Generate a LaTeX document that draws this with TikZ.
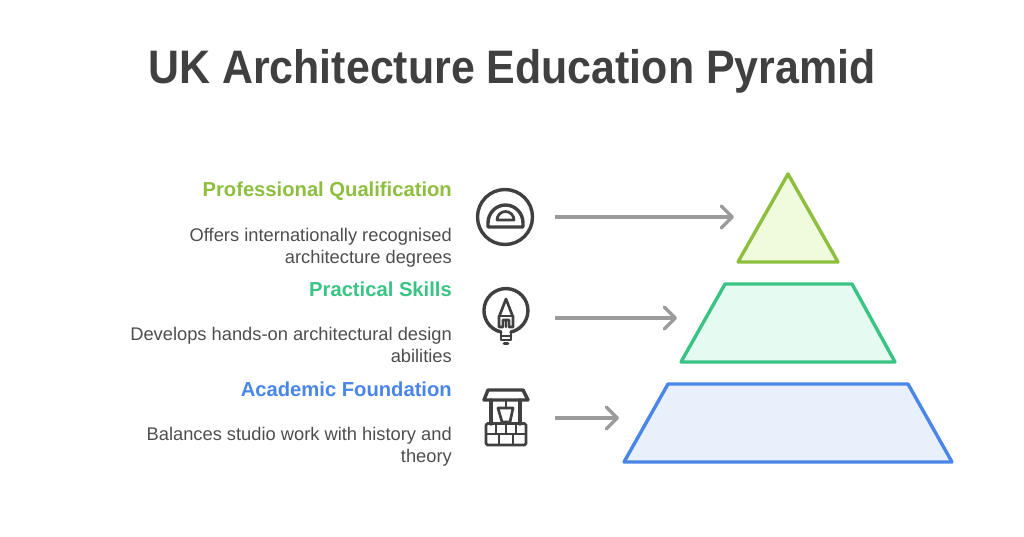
\documentclass[tikz,border=0pt]{standalone}
\usepackage{fontspec}
\setmainfont{Liberation Sans}
\usetikzlibrary{arrows.meta}
\definecolor{ink}{RGB}{64,64,64}
\definecolor{bodyink}{RGB}{78,78,78}
\definecolor{arrowgrey}{RGB}{155,155,155}
\definecolor{lime}{RGB}{142,190,62}
\definecolor{limefill}{RGB}{240,251,222}
\definecolor{mint}{RGB}{58,196,132}
\definecolor{mintfill}{RGB}{229,250,240}
\definecolor{azure}{RGB}{74,134,232}
\definecolor{azurefill}{RGB}{232,240,252}
\tikzset{
  x=1pt,y=-1pt,
  titletext/.style={anchor=center,font=\fontsize{47}{52}\selectfont\bfseries,text=ink,inner sep=0pt},
  headtext/.style={anchor=east,font=\fontsize{20.2}{24}\selectfont\bfseries,inner sep=0pt},
  bodytext/.style={anchor=north east,align=right,font=\fontsize{18.3}{22}\selectfont,text=bodyink,inner sep=0pt},
  flow/.style={draw=arrowgrey,line width=3.2pt,-{Straight Barb[length=11pt,width=22pt,line width=3.4pt,round]}},
  tier/.style={line width=3.4pt,line join=round},
  icon/.style={draw=ink,line width=3.4pt,line join=round,line cap=round},
  iconthin/.style={draw=ink,line width=2.7pt,line join=round,line cap=round},
  brickline/.style={draw=ink,line width=2.2pt},
}
\begin{document}
\begin{tikzpicture}
\useasboundingbox (0,0) rectangle (1024,536);
\fill[white] (0,0) rectangle (1024,536);
\node[titletext] (title) at (512,71) {\scalebox{0.913}[1]{UK Architecture Education Pyramid}};

% tiers
\draw[tier,draw=lime,fill=limefill] (788,174) -- (838,262) -- (738,262) -- cycle;
\draw[tier,draw=mint,fill=mintfill] (725,284) -- (852,284) -- (895,362) -- (681,362) -- cycle;
\draw[tier,draw=azure,fill=azurefill] (668,384) -- (908,384) -- (952,462) -- (624,462) -- cycle;

% anchors for connectors
\coordinate (t1) at (734,217);
\coordinate (t2) at (677,318);
\coordinate (t3) at (619,418);
\coordinate (s1) at (555,217);
\coordinate (s2) at (555,318);
\coordinate (s3) at (555,418);
\draw[flow] (s1) -- (t1);
\draw[flow] (s2) -- (t2);
\draw[flow] (s3) -- (t3);

% labels
\node[headtext,text=lime] (h1) at (452,191) {Professional Qualification};
\node[bodytext] (b1) at (452,228) {Offers internationally recognised\\architecture degrees};
\node[headtext,text=mint] (h2) at (452,289) {Practical Skills};
\node[bodytext] (b2) at (452,327) {Develops hands-on architectural design\\abilities};
\node[headtext,text=azure] (h3) at (452,389) {Academic Foundation};
\node[bodytext] (b3) at (452,427) {Balances studio work with history and\\theory};

% protractor icon
\draw[icon] (505,217) circle (27.5);
\draw[icon] (488,227) -- (523,227) -- (523,223) arc (0:-180:17.5 and 18) -- cycle;
\draw[iconthin] (497,220) -- (514,220) arc (0:-180:8.5 and 8.5) -- cycle;

% bulb-pencil icon
\draw[icon] (501,332) arc (-257:77:22) ;
\draw[iconthin] (501,332) -- (501,340) -- (511,340) -- (511,332);
\draw[iconthin] (501,336) -- (511,336);
\draw[iconthin] (504,343.5) -- (508,343.5);
\draw[iconthin] (506,299) -- (499,317) -- (499,327) -- (503,327) -- (503,320) -- (509,320) -- (509,327) -- (513,327) -- (513,317) -- cycle;
\draw[iconthin] (499,316) -- (513,316);
\draw[iconthin] (506,320) -- (506,327);

% well icon
\draw[icon] (488,390) -- (523,390) -- (528,400) -- (484,400) -- cycle;
\draw[icon] (491,400) -- (491,424);
\draw[icon] (520,400) -- (520,424);
\draw[iconthin] (506,400) -- (506,408);
\draw[iconthin] (498,408) -- (513,408) -- (510,422) -- (502,422) -- cycle;
\draw[iconthin,rounded corners=1.5pt] (486,423.5) rectangle (526,445);
\draw[brickline] (486,434) -- (526,434);
\draw[brickline] (496,424) -- (496,434);
\draw[brickline] (506,424) -- (506,434);
\draw[brickline] (516,424) -- (516,434);
\draw[brickline] (499,434) -- (499,444);
\draw[brickline] (513,434) -- (513,444);
\end{tikzpicture}
\end{document}
